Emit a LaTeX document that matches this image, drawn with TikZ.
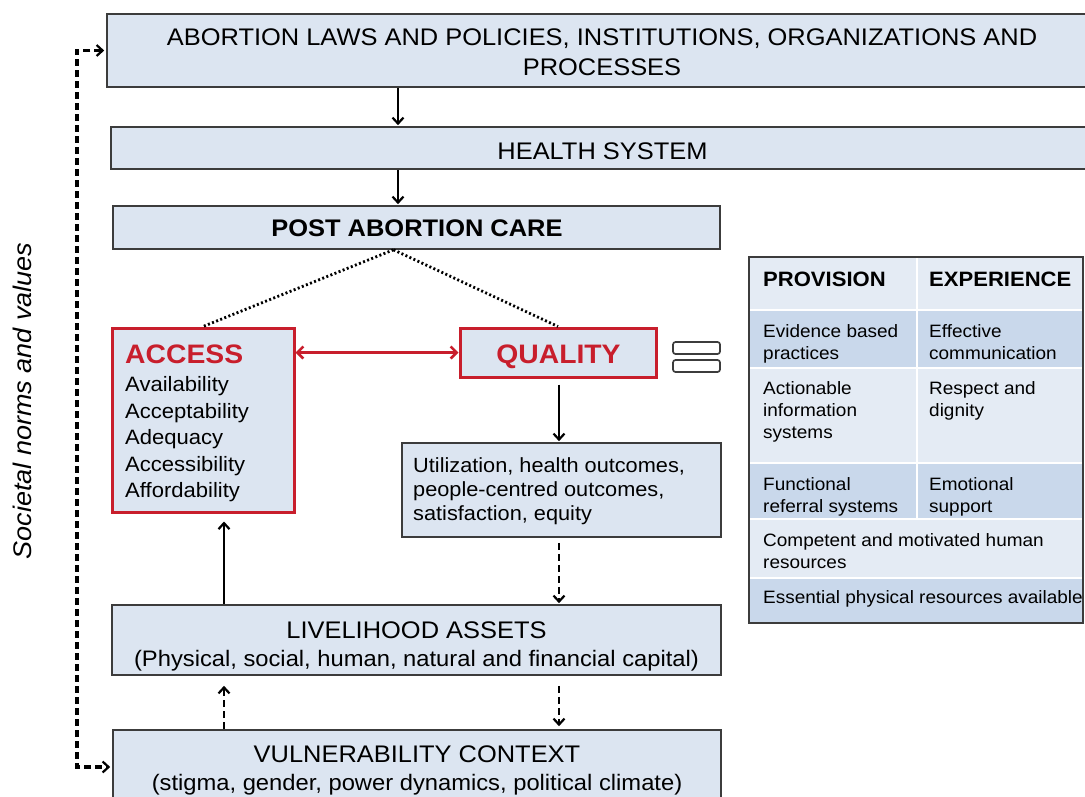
\documentclass[tikz,border=0pt]{standalone}
\usepackage{fontspec}
\setmainfont{Liberation Sans}[FakeStretch=1.06]
\usetikzlibrary{arrows.meta}
\definecolor{boxblue}{HTML}{DCE5F1}
\definecolor{edgegray}{HTML}{3C3C3C}
\definecolor{accred}{HTML}{C81E2C}
\definecolor{tlight}{HTML}{E4EBF4}
\definecolor{tdark}{HTML}{C9D8EB}
\newcommand\fsz[2]{\fontsize{#1}{#2}\selectfont}
\begin{document}
\begin{tikzpicture}[x=1pt,y=-1pt,
  box/.style={draw=edgegray, fill=boxblue, line width=1.6pt, inner sep=0pt, rectangle},
  redbox/.style={draw=accred, fill=boxblue, line width=3pt, inner sep=0pt, rectangle},
  txt/.style={inner sep=0pt, anchor=north, align=center},
  ltxt/.style={inner sep=0pt, anchor=north west, align=left},
  barb/.tip={Straight Barb[length=6pt,width=11pt,line width=2.2pt]},
  conn/.style={line width=2.4pt, black, -barb},
  dconn/.style={conn, dash pattern=on 7pt off 4pt},
  dotconn/.style={line width=2.8pt, dash pattern=on 2pt off 2.4pt},
  sep/.style={white, line width=2.6pt},
  ttxt/.style={ltxt, font=\fsz{17.9}{22}},
  thead/.style={ltxt, font=\bfseries\fsz{20.8}{24}},
]
\useasboundingbox (0,0) rectangle (1085,796);
\fill[white] (0,0) rectangle (1085,796);
\clip (0,0) rectangle (1085,796);

% ---------- main boxes ----------
\node[box, minimum width=993pt, minimum height=73pt] (laws) at (603.5,50.5) {};
\node[txt, font=\fsz{24}{30}] (lawst) at (602,28.3)
  {ABORTION LAWS AND POLICIES, INSTITUTIONS, ORGANIZATIONS AND\\PROCESSES};

\node[box, minimum width=989pt, minimum height=42pt] (hs) at (605.5,148) {};
\node[txt, font=\fsz{24}{30}] (hst) at (602.5,142.5) {HEALTH SYSTEM};

\node[box, minimum width=607pt, minimum height=43pt] (pac) at (416.5,227.5) {};
\node[txt, font=\bfseries\fsz{24}{30}] (pact) at (417,219.5) {POST ABORTION CARE};

\node[redbox, minimum width=182pt, minimum height=184pt] (access) at (203,420) {};
\node[ltxt, font=\fsz{20.8}{26.5}] (accesst) at (125,345)
  {{\color{accred}\bfseries\fsz{26.7}{26.5}ACCESS}\\[1.5pt]
   Availability\\Acceptability\\Adequacy\\Accessibility\\Affordability};

\node[redbox, minimum width=196pt, minimum height=49pt] (quality) at (558,352.5) {};
\node[txt, font=\bfseries\fsz{26.7}{30}, text=accred] (qualityt) at (558.5,344.5) {QUALITY};

\node[box, minimum width=319pt, minimum height=94pt] (util) at (561.5,490) {};
\node[ltxt, font=\fsz{20.5}{24}] (utilt) at (413,457.5)
  {Utilization, health outcomes,\\people-centred outcomes,\\satisfaction, equity};

\node[box, minimum width=609pt, minimum height=70pt] (liv) at (416.5,640) {};
\node[txt, font=\fsz{24}{28}] (livt) at (416.5,621.5)
  {LIVELIHOOD ASSETS\\{\fsz{22.4}{28}(Physical, social, human, natural and financial capital)}};

\node[box, minimum width=608pt, minimum height=85pt] (vuln) at (417,772.5) {};
\node[txt, font=\fsz{24}{28}] (vulnt) at (417,745.5)
  {VULNERABILITY CONTEXT\\{\fsz{22.4}{28}(stigma, gender, power dynamics, political climate)}};

% equals sign
\draw[fill=white, draw=edgegray, line width=1.7pt, rounded corners=2.5pt] (673,342) rectangle (720,354);
\draw[fill=white, draw=edgegray, line width=1.7pt, rounded corners=2.5pt] (673,360) rectangle (720,372);

% side label
\node[rotate=90, inner sep=0pt, font=\itshape\fsz{25.5}{30}] (soc) at (22.5,401) {Societal norms and values};

% ---------- connectors ----------
\coordinate (xtop) at (398,0);
\coordinate (colL) at (224,0);
\coordinate (colR) at (559,0);
\coordinate (lb) at (77,767);

\draw[conn, shorten >=1pt] (laws.south -| xtop) -- (hs.north -| xtop);
\draw[conn, shorten >=1pt] (hs.south -| xtop) -- (pac.north -| xtop);

\draw[dotconn] ([xshift=-23pt]pac.south) -- (access.north);
\draw[dotconn] ([xshift=-23pt]pac.south) -- (quality.north);

\draw[accred, line width=2.6pt, {Straight Barb[length=6pt,width=12pt,line width=2.6pt]}-{Straight Barb[length=6pt,width=12pt,line width=2.6pt]}]
  (access.east |- quality.west) -- (quality.west);

\draw[conn, shorten <=6pt, shorten >=1pt] (quality.south -| colR) -- (util.north -| colR);
\draw[dconn, shorten <=5pt, shorten >=1pt] (util.south -| colR) -- (liv.north -| colR);
\draw[conn, shorten >=8pt] (liv.north -| colL) -- (access.south -| colL);
\draw[dconn, shorten >=10pt] (vuln.north -| colL) -- (liv.south -| colL);
\draw[dconn, shorten <=10pt, shorten >=3pt] (liv.south -| colR) -- (vuln.north -| colR);

\draw[line width=3.2pt, dash pattern=on 7pt off 4pt, barb-barb, shorten <=2pt, shorten >=2pt]
  (laws.west) -| (lb) -- (lb -| vuln.west);

% ---------- table ----------
\fill[tlight] (749,257) rectangle (1083,310);
\fill[tdark]  (749,310) rectangle (1083,368);
\fill[tlight] (749,368) rectangle (1083,463);
\fill[tdark]  (749,463) rectangle (1083,519);
\fill[tlight] (749,519) rectangle (1083,578);
\fill[tdark]  (749,578) rectangle (1083,623);
\draw[sep] (749,310) -- (1083,310);
\draw[sep] (749,368) -- (1083,368);
\draw[sep] (749,463) -- (1083,463);
\draw[sep] (749,519) -- (1083,519);
\draw[sep] (749,578) -- (1083,578);
\draw[sep] (917,257) -- (917,519);
\draw[edgegray, line width=1.6pt] (749,257) rectangle (1083,623);

\node[thead] (h1) at (763,272) {PROVISION};
\node[thead] (h2) at (929,272) {EXPERIENCE};
\node[ttxt] (r1a) at (763,324.2) {Evidence based\\practices};
\node[ttxt] (r1b) at (929,324.2) {Effective\\communication};
\node[ttxt] (r2a) at (763,381.2) {Actionable\\information\\systems};
\node[ttxt] (r2b) at (929,381.2) {Respect and\\dignity};
\node[ttxt] (r3a) at (763,477) {Functional\\referral systems};
\node[ttxt] (r3b) at (929,477) {Emotional\\support};
\node[ttxt] (r4) at (763,533) {Competent and motivated human\\resources};
\node[ttxt] (r5) at (763,590) {Essential physical resources available};
\end{tikzpicture}
\end{document}
